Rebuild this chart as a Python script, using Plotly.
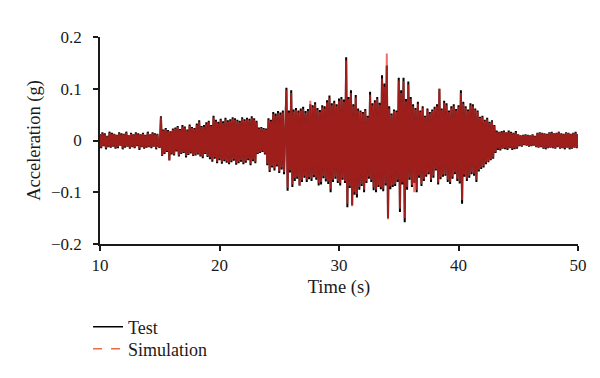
import plotly.graph_objects as go

# Sampling grid of the record (s)
sample_start_s = 10.0
sample_step_s = 0.1

# Acceleration, in thousandths of g, one row per second (10 s ... 49 s, then 50 s)
test_milli_g = [
    12, -15, 16, -11, 14, -17, 9, -13, 17, -14,
    15, -12, 13, -16, 11, -15, 16, -10, 14, -17,
    13, -14, 17, -12, 10, -16, 15, -13, 12, -15,
    16, -11, 14, -18, 12, -13, 15, -16, 11, -14,
    17, -13, 12, -15, 16, -12, 14, -17, 13, -11,
    -14, 47, -30, 21, -26, 24, -22, 20, -38, 18,
    -27, 23, -29, 25, -21, 28, -31, 22, -26, 30,
    -24, 27, -33, 21, -28, 31, -25, 26, -30, 24,
    -29, 33, -27, 39, -31, 28, -34, 30, -26, 35,
    -32, 38, -36, 30, -41, 48, -35, 40, -44, 36,
    -38, 42, -45, 37, -40, 44, -43, 39, -46, 41,
    -42, 45, -39, 43, -47, 40, -44, 38, -41, 45,
    -46, 41, -43, 44, -38, 42, -48, 47, -40, 43,
    -44, 38, -26, 25, -24, 26, -22, 24, -27, 23,
    -48, 43, -61, 40, -52, 55, -58, 52, -50, 57,
    -63, 54, -56, 58, -65, 53, 102, -97, 58, -62,
    97, -90, 60, -78, 63, -74, 58, -87, 62, -80,
    65, -72, 57, -80, 61, -75, 70, -78, 68, -71,
    74, -76, 63, -87, 59, -85, 68, -73, 66, -79,
    78, -84, 87, -100, 72, -80, 77, -74, 70, -82,
    81, -87, 84, -76, 79, -82, 161, -129, 84, -92,
    97, -125, 70, -105, 88, -110, 62, -95, 58, -88,
    55, -100, 61, -82, 48, -74, 94, -80, 72, -96,
    78, -100, 84, -90, 73, -94, 126, -98, 110, -87,
    145, -150, 66, -94, 52, -90, 60, -88, 58, -80,
    121, -138, 97, -85, 121, -158, 80, -95, 114, -76,
    84, -90, 70, -82, 63, -100, 75, -72, 58, -88,
    66, -78, 48, -70, 62, -65, 55, -80, 60, -72,
    65, -58, 70, -85, 100, -75, 62, -70, 77, -68,
    72, -80, 58, -84, 66, -74, 70, -65, 61, -78,
    68, -83, 97, -122, 75, -70, 66, -78, 60, -72,
    72, -65, 70, -68, 62, -80, 58, -60, 46, -55,
    48, -52, 40, -46, 44, -42, 36, -38, 39, -35,
    30, -24, 19, -18, 17, -19, 18, -16, 19, -17,
    16, -18, 19, -15, 17, -18, 15, -17, 18, -16,
    12, -11, 10, -12, 11, -9, 12, -10, 11, -12,
    10, -11, 12, -10, 9, -13, 15, -14, 16, -13,
    15, -16, 14, -17, 13, -15, 16, -14, 17, -15,
    14, -16, 15, -13, 17, -16, 14, -15, 13, -17,
    16, -14, 15, -17, 13, -16, 15, -14, 17, -15,
    12,
]

simulation_milli_g = [
    11, -13, 14, -10, 12, -15, 8, -12, 15, -12,
    13, -11, 12, -14, 10, -13, 14, -9, 12, -15,
    12, -12, 15, -11, 9, -14, 13, -12, 11, -13,
    14, -10, 12, -16, 11, -12, 13, -14, 10, -12,
    15, -12, 11, -13, 14, -11, 12, -15, 12, -10,
    -13, 45, -29, 19, -24, 22, -20, 18, -39, 16,
    -25, 21, -27, 23, -19, 26, -29, 20, -24, 27,
    -22, 25, -30, 19, -26, 28, -23, 24, -28, 22,
    -27, 30, -25, 36, -29, 26, -31, 27, -24, 32,
    -30, 35, -33, 28, -38, 45, -32, 37, -41, 33,
    -35, 39, -42, 34, -37, 41, -40, 36, -43, 38,
    -39, 42, -36, 40, -44, 37, -41, 35, -38, 42,
    -43, 38, -40, 41, -35, 39, -45, 44, -37, 40,
    -41, 35, -24, 23, -22, 24, -20, 22, -25, 21,
    -45, 40, -58, 37, -49, 51, -54, 48, -47, 53,
    -60, 50, -52, 54, -61, 49, 98, -92, 54, -58,
    92, -85, 56, -73, 59, -70, 54, -88, 58, -76,
    61, -68, 53, -76, 57, -71, 77, -74, 64, -67,
    70, -72, 59, -82, 55, -80, 64, -69, 62, -75,
    74, -79, 82, -94, 68, -76, 73, -70, 66, -78,
    77, -82, 80, -72, 75, -78, 155, -122, 80, -88,
    92, -127, 66, -100, 83, -104, 58, -90, 55, -84,
    52, -95, 58, -78, 45, -70, 89, -76, 68, -91,
    74, -95, 80, -86, 69, -90, 120, -93, 104, -83,
    168, -152, 62, -89, 49, -86, 57, -84, 55, -76,
    116, -132, 92, -81, 115, -150, 76, -90, 108, -72,
    80, -86, 66, -100, 60, -95, 71, -68, 55, -84,
    63, -74, 46, -66, 59, -62, 52, -76, 57, -68,
    62, -55, 66, -81, 100, -71, 59, -66, 73, -65,
    68, -76, 55, -80, 63, -70, 66, -62, 58, -74,
    65, -79, 92, -115, 71, -66, 63, -74, 57, -68,
    68, -62, 66, -64, 59, -76, 55, -57, 44, -52,
    45, -49, 38, -43, 41, -40, 34, -36, 37, -33,
    28, -22, 17, -16, 16, -17, 16, -15, 17, -15,
    15, -16, 17, -14, 15, -16, 14, -15, 16, -14,
    11, -10, 9, -11, 10, -8, 11, -9, 10, -11,
    9, -10, 11, -9, 8, -12, 14, -13, 15, -12,
    14, -15, 13, -15, 12, -14, 15, -13, 15, -14,
    13, -15, 14, -12, 16, -15, 13, -14, 12, -15,
    15, -13, 14, -15, 12, -15, 14, -13, 15, -14,
    11,
]

series_names = ["Test", "Simulation"]
x_tick_values = [10, 20, 30, 40, 50]
y_tick_values = [-0.2, -0.1, 0, 0.1, 0.2]
y_tick_labels = ["\u22120.2", "\u22120.1", "0", "0.1", "0.2"]

time_s = [round(sample_start_s + i * sample_step_s, 2) for i in range(len(test_milli_g))]
test_g = [v / 1000 for v in test_milli_g]
simulation_g = [v / 1000 for v in simulation_milli_g]

FONT = "Liberation Serif, Times New Roman, serif"
INK = "#1a1a1a"
SIM_BODY = "rgba(232,44,40,0.68)"
SIM_LEGEND = "#ef6a45"

fig = go.Figure()
fig.add_trace(go.Scatter(
    x=time_s, y=test_g, mode="lines", name=series_names[0],
    line=dict(color="#000000", width=2.0), showlegend=False,
))
fig.add_trace(go.Scatter(
    x=time_s, y=simulation_g, mode="lines", name=series_names[1],
    line=dict(color=SIM_BODY, width=2.0), showlegend=False,
))
# legend keys (thin solid black / dashed orange-red, as in the original key)
fig.add_trace(go.Scatter(
    x=[None], y=[None], mode="lines", name=series_names[0],
    line=dict(color="#000000", width=1.5), legend="legend",
))
fig.add_trace(go.Scatter(
    x=[None], y=[None], mode="lines", name=series_names[1],
    line=dict(color=SIM_LEGEND, width=1.5, dash="dash"), legend="legend2",
))

legend_common = dict(
    xanchor="left", yanchor="middle", orientation="v",
    font=dict(size=18, family=FONT, color=INK),
    bgcolor="rgba(0,0,0,0)", itemwidth=30,
)

fig.update_layout(
    width=600, height=378,
    margin=dict(l=92, r=30, t=29, b=142),
    paper_bgcolor="white", plot_bgcolor="white",
    font=dict(family=FONT, size=17, color=INK),
    showlegend=True,
    legend=dict(x=-0.025, y=(236 - 319) / 207, **legend_common),
    legend2=dict(x=-0.025, y=(236 - 341) / 207, **legend_common),
    xaxis=dict(
        range=[10, 50], tickvals=x_tick_values,
        showline=True, linecolor=INK, linewidth=1.5,
        ticks="outside", ticklen=5, tickwidth=1.5, tickcolor=INK,
        showgrid=False, zeroline=False,
        title=dict(text="Time (s)", font=dict(size=18.5), standoff=6),
        tickfont=dict(size=17),
    ),
    yaxis=dict(
        range=[-0.2, 0.2], tickvals=y_tick_values, ticktext=y_tick_labels,
        showline=True, linecolor=INK, linewidth=1.5,
        ticks="outside", ticklen=5, tickwidth=1.5, tickcolor=INK,
        showgrid=False, zeroline=False, ticklabelstandoff=8,
        title=dict(text="Acceleration (g)", font=dict(size=18.5), standoff=6),
        tickfont=dict(size=17),
    ),
)

fig.write_html("out.html")
